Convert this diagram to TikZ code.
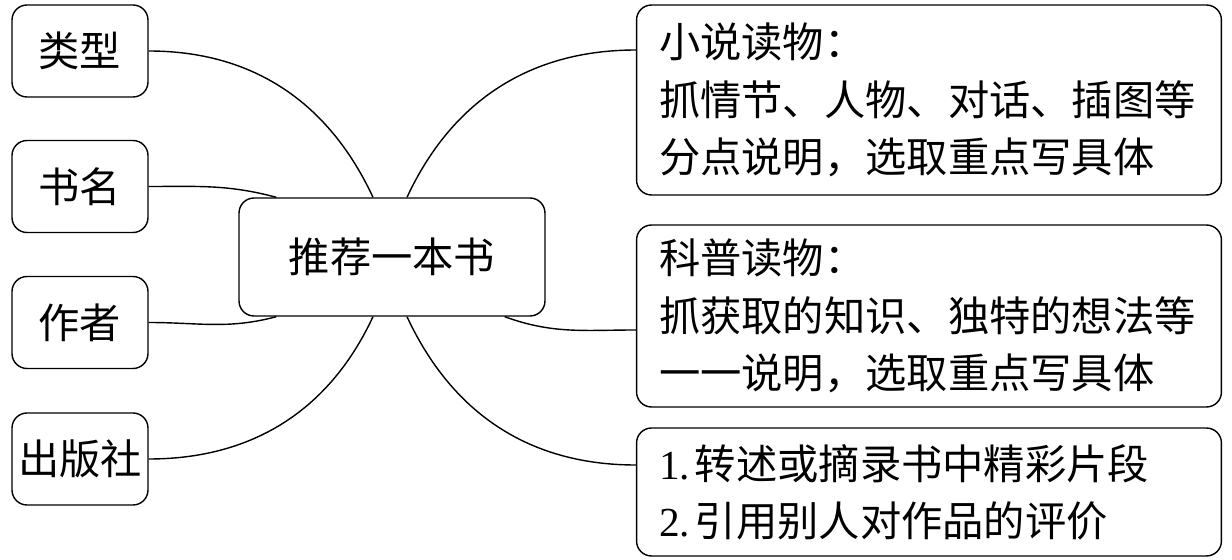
\documentclass[tikz,border=0pt]{standalone}
\usepackage{fontspec}
\setmainfont{Liberation Serif}
\newfontfamily\cjk{Noto Sans CJK SC}
\usetikzlibrary{positioning}
\newcommand{\latnum}[1]{{\rmfamily #1}\hspace{0.12em}}

\begin{document}
\begin{tikzpicture}[x=0.02cm, y=-0.02cm]
	\useasboundingbox (0,0) rectangle (1232,560);
	\begin{scope}[every node/.style={draw, rounded corners=0.3cm, line width=0.8pt,
	              font=\fontsize{23.5}{32.6}\selectfont\cjk}]
		\node[minimum width=2.72cm, minimum height=1.84cm] (lx) at (80,51) {类型};
		\node[minimum width=2.72cm, minimum height=1.84cm] (sm) at (80,186.5) {书名};
		\node[minimum width=2.72cm, minimum height=1.84cm] (zz) at (80,322.5) {作者};
		\node[minimum width=2.72cm, minimum height=1.84cm] (cbs) at (80,459) {出版社};
		\node[minimum width=6.12cm, minimum height=2.36cm] (root) at (392,257) {推荐一本书};
		\node[text width=10.8cm, inner xsep=0.45cm, align=left, minimum height=3.8cm] (xs) at (929,100)
			{小说读物：\\抓情节、人物、对话、插图等\\分点说明，选取重点写具体};
		\node[text width=10.8cm, inner xsep=0.45cm, align=left, minimum height=3.64cm] (kp) at (929,316)
			{科普读物：\\抓获取的知识、独特的想法等\\一一说明，选取重点写具体};
		\node[text width=10.8cm, inner xsep=0.45cm, align=left, minimum height=2.56cm] (py) at (929,492)
			{\latnum{1.}转述或摘录书中精彩片段\\\latnum{2.}引用别人对作品的评价};
	\end{scope}

	\begin{scope}[every edge/.style={draw=black, line width=0.8pt}]
		\path (lx.east) edge[out=0, in=115] ([xshift=-0.38cm]root.north);
		\path (sm.east) edge[out=0, in=165] ([xshift=0.76cm]root.north west);
		\path (zz.east) edge[out=0, in=-165] ([xshift=0.76cm]root.south west);
		\path (cbs.east) edge[out=0, in=-115] ([xshift=-0.38cm]root.south);
		\path ([xshift=0.3cm]root.north) edge[out=65, in=180] ([yshift=1cm]xs.west);
		\path ([xshift=-0.82cm]root.south east) edge[out=-20, in=180] ([yshift=-0.28cm]kp.west);
		\path ([xshift=0.3cm]root.south) edge[out=-65, in=180] ([yshift=0.54cm]py.west);
	\end{scope}
\end{tikzpicture}
\end{document}
